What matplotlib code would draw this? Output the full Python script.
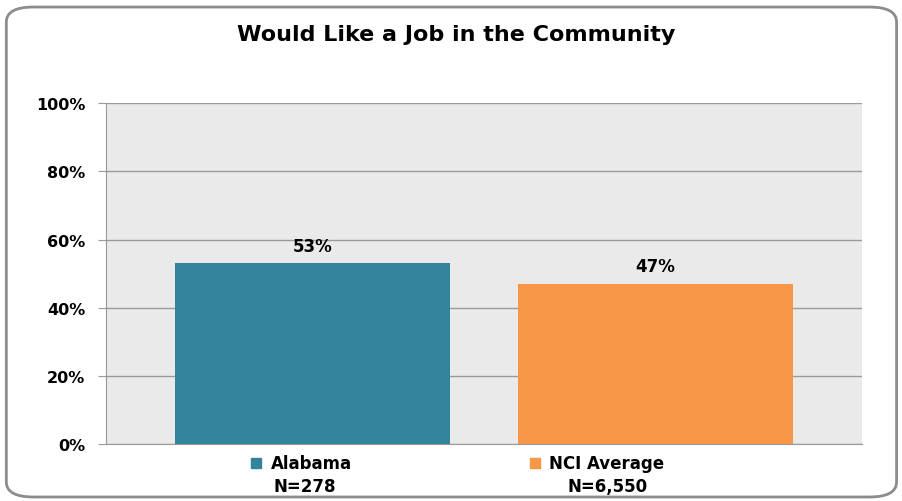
import matplotlib.pyplot as plt
from matplotlib.patches import FancyBboxPatch

categories = ["Alabama", "NCI Average"]
sample_sizes = ["N=278", "N=6,550"]
values = [53, 47]
colors = ["#31849B", "#F79646"]
yticks = [0, 20, 40, 60, 80, 100]
ytick_labels = ["0%", "20%", "40%", "60%", "80%", "100%"]

fig = plt.figure(figsize=(9.02, 5.02), dpi=100)

# rounded outer border
border = FancyBboxPatch((0.007, 0.008), 0.987, 0.976,
                        boxstyle="round,pad=0,rounding_size=0.03",
                        transform=fig.transFigure, facecolor="none",
                        edgecolor="#8C8C8C", linewidth=2, zorder=5)
fig.patches.append(border)

ax = fig.add_axes([0.1175, 0.1135, 0.838, 0.679])
ax.set_facecolor("#EAEAEA")

x_pos = [0.273, 0.727]
bars = ax.bar(x_pos, values, width=0.364, color=colors, zorder=3)

for x, v in zip(x_pos, values):
    ax.text(x, v + 2.5, f"{v}%", ha="center", va="bottom",
            fontsize=12, fontweight="bold", color="black")

ax.set_xlim(0, 1)
ax.set_ylim(0, 100)
ax.set_yticks(yticks)
ax.set_yticklabels(ytick_labels, fontsize=11.5, fontweight="bold")
ax.set_xticks([])
ax.yaxis.grid(True, color="#9A9A9A", linewidth=1, zorder=0)
ax.set_axisbelow(True)
ax.tick_params(axis="y", length=6, color="#9A9A9A", pad=9)

for side in ["top", "right"]:
    ax.spines[side].set_visible(False)
ax.spines["left"].set_color("#9A9A9A")
ax.spines["bottom"].set_color("#9A9A9A")

# category labels with colored squares under the bars
square_x = [0.199, 0.568]
name_x = [0.218, 0.586]
n_x = [0.263, 0.663]
for sx, nx_, lx, cat, n, c in zip(square_x, name_x, n_x, categories, sample_sizes, colors):
    ax.plot([sx], [-5.6], marker="s", markersize=7, color=c, clip_on=False)
    ax.text(nx_, -5.6, cat, ha="left", va="center", fontsize=12, fontweight="bold")
    ax.text(lx, -12.4, n, ha="center", va="center", fontsize=12, fontweight="bold")

fig.text(0.506, 0.93, "Would Like a Job in the Community", ha="center",
         va="center", fontsize=16, fontweight="bold")

fig.savefig("out.png", dpi=100)
